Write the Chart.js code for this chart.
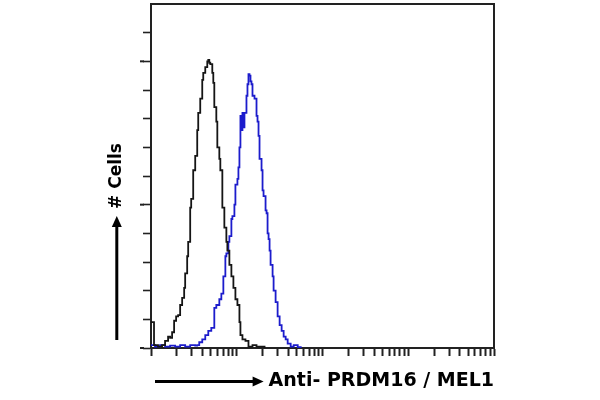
<!DOCTYPE html>
<html>
<head>
<meta charset="utf-8">
<script src="https://cdn.jsdelivr.net/npm/chart.js@4/dist/chart.umd.min.js"></script>
<style>
  html, body { margin: 0; padding: 0; background: #ffffff; }
  #c { display: block; }
</style>
</head>
<body>
<canvas id="c" width="600" height="400"></canvas>
<script>
// ---- Data (1024-channel log display, 256 channels per decade) ----
const channelsBlack = [0, 3, 9, 21, 33, 42, 51, 57, 63, 69, 75, 81, 87, 93, 99, 102, 108, 111, 117, 120, 126, 132, 138, 141, 147, 153, 156, 162, 168, 171, 174, 177, 183, 186, 189, 195, 198, 204, 207, 213, 219, 225, 228, 234, 240, 246, 252, 258, 264, 267, 273, 282, 291, 303, 315, 327, 339];
const countsBlack   = [0.9, 0.9, 0.1, 0.05, 0.1, 0.25, 0.4, 0.35, 0.55, 0.95, 1.1, 1.15, 1.5, 1.75, 2.1, 2.6, 3.2, 3.7, 4.9, 5.2, 6.2, 6.7, 7.6, 8.2, 8.7, 9.35, 9.6, 9.8, 10.0, 10.05, 9.95, 9.9, 9.6, 9.25, 8.4, 7.9, 7.0, 6.6, 6.2, 4.9, 4.2, 3.7, 3.4, 2.9, 2.5, 2.1, 1.7, 1.5, 0.9, 0.45, 0.3, 0.25, 0.05, 0.1, 0.05, 0.05, 0];

const channelsBlue = [0, 3, 12, 27, 42, 57, 72, 87, 102, 117, 132, 138, 144, 153, 162, 171, 180, 189, 195, 204, 210, 216, 222, 225, 231, 234, 240, 243, 249, 252, 258, 261, 264, 267, 270, 273, 276, 279, 285, 288, 291, 294, 297, 300, 303, 309, 315, 318, 321, 324, 330, 333, 336, 342, 345, 348, 351, 354, 357, 363, 366, 372, 378, 384, 390, 396, 402, 408, 417, 426, 438, 447];
const countsBlue   = [0.1, 0.1, 0.05, 0.1, 0.05, 0.08, 0.05, 0.1, 0.05, 0.1, 0.08, 0.1, 0.2, 0.3, 0.45, 0.6, 0.7, 1.4, 1.5, 1.7, 1.9, 2.5, 3.2, 3.3, 3.7, 3.9, 4.5, 4.6, 5.0, 5.7, 5.9, 6.3, 7.0, 8.1, 7.6, 8.2, 7.7, 8.2, 8.8, 9.2, 9.55, 9.5, 9.3, 9.2, 8.8, 8.7, 8.1, 7.9, 7.4, 6.6, 6.2, 5.5, 5.3, 4.8, 4.7, 4.0, 3.8, 3.4, 2.9, 2.5, 2.0, 1.6, 1.1, 0.8, 0.6, 0.4, 0.3, 0.15, 0.05, 0.1, 0.03, 0];

// Axis definition
const decades = [1, 10, 100, 1000];
const mantissas = [1, 2, 3, 4, 5, 6, 7, 8, 9];
const channelsPerDecade = 256;
const channelMax = 1024;
const countMax = 12;
const majorCountTicks = [0, 5, 10];

const xTitle = 'Anti- PRDM16 / MEL1';
const yTitle = '# Cells';

// ---- Chart ----
Chart.defaults.font.family = "'DejaVu Sans', 'Liberation Sans', sans-serif";

const toPoints = (xs, ys) => xs.map((x, i) => ({ x: x, y: ys[i] }));

const xTitleFont = { family: "'DejaVu Sans', sans-serif", size: 19, weight: 'bold', lineHeight: 1.2 };
const yTitleFont = { family: "'DejaVu Sans', sans-serif", size: 17, weight: 'bold', lineHeight: 1.2 };

const arrowsPlugin = {
  id: 'arrows',
  afterDraw(chart) {
    const ctx = chart.ctx;
    const area = chart.chartArea;
    const xs = chart.scales.x;
    const ys = chart.scales.y;
    ctx.save();

    // longer major tick marks on the count axis
    ctx.strokeStyle = '#222';
    ctx.lineWidth = 2;
    majorCountTicks.forEach(v => {
      const py = ys.getPixelForValue(v);
      ctx.beginPath();
      ctx.moveTo(area.left - 11, py);
      ctx.lineTo(area.left - 7, py);
      ctx.stroke();
    });

    ctx.fillStyle = '#000';
    ctx.strokeStyle = '#000';
    ctx.lineWidth = 3;

    // x-axis arrow (to the left of the title, on the title's centre line)
    ctx.font = 'bold 19px "DejaVu Sans"';
    const tw = ctx.measureText(xTitle).width;
    const ay = xs.bottom - 19 * 1.2 / 2;
    const xStart = area.left + 4;
    const xEnd = area.right - tw - 5;
    ctx.beginPath();
    ctx.moveTo(xStart, ay);
    ctx.lineTo(xEnd - 9, ay);
    ctx.stroke();
    ctx.beginPath();
    ctx.moveTo(xEnd, ay);
    ctx.lineTo(xEnd - 11, ay - 5);
    ctx.lineTo(xEnd - 11, ay + 5);
    ctx.closePath();
    ctx.fill();

    // y-axis arrow (below the title)
    ctx.font = 'bold 17px "DejaVu Sans"';
    const th = ctx.measureText(yTitle).width;
    const ax = ys.left + 17 * 1.2 / 2;
    const yMid = (area.top + area.bottom) / 2;
    const yTip = yMid + th / 2 + 7;
    const yStart = area.bottom - 8;
    ctx.beginPath();
    ctx.moveTo(ax, yStart);
    ctx.lineTo(ax, yTip + 9);
    ctx.stroke();
    ctx.beginPath();
    ctx.moveTo(ax, yTip);
    ctx.lineTo(ax - 5, yTip + 11);
    ctx.lineTo(ax + 5, yTip + 11);
    ctx.closePath();
    ctx.fill();

    ctx.restore();
  }
};

new Chart(document.getElementById('c'), {
  type: 'line',
  data: {
    datasets: [
      {
        label: 'Control',
        data: toPoints(channelsBlack, countsBlack),
        borderColor: '#151515',
        borderWidth: 1.8,
        stepped: true,
        pointRadius: 0,
        fill: false
      },
      {
        label: 'Anti-PRDM16',
        data: toPoints(channelsBlue, countsBlue),
        borderColor: '#1c1ccc',
        borderWidth: 1.8,
        stepped: true,
        pointRadius: 0,
        fill: false
      }
    ]
  },
  options: {
    responsive: false,
    animation: false,
    layout: { padding: { left: 106.6, right: 106, top: 4, bottom: 7.2 } },
    plugins: { legend: { display: false }, tooltip: { enabled: false } },
    scales: {
      x: {
        type: 'linear',
        position: 'bottom',
        min: 0,
        max: channelMax,
        afterBuildTicks(scale) {
          const t = [];
          decades.forEach(d => mantissas.forEach(m => t.push({ value: channelsPerDecade * Math.log10(m * d) })));
          t.push({ value: channelMax });
          scale.ticks = t;
        },
        ticks: { display: false },
        grid: { drawOnChartArea: false, drawTicks: true, tickLength: 8, tickColor: '#222', tickWidth: 2 },
        border: { display: true, color: '#222', width: 2 },
        title: { display: true, text: xTitle, align: 'end', color: '#000', font: xTitleFont, padding: { top: 14, bottom: 0 } }
      },
      y: {
        type: 'linear',
        position: 'left',
        min: 0,
        max: countMax,
        ticks: { display: false, stepSize: 1 },
        grid: {
          drawOnChartArea: false, drawTicks: true, tickLength: 8, tickWidth: 1.6,
          tickColor: (c) => (c.tick && c.tick.value === countMax ? 'rgba(0,0,0,0)' : '#222')
        },
        border: { display: true, color: '#222', width: 2 },
        title: { display: true, text: yTitle, align: 'center', color: '#000', font: yTitleFont, padding: { top: 0, bottom: 16 } }
      },
      xTop: {
        type: 'linear', position: 'top', min: 0, max: channelMax,
        ticks: { display: false }, grid: { display: false, drawTicks: false },
        border: { display: true, color: '#222', width: 2 }
      },
      yRight: {
        type: 'linear', position: 'right', min: 0, max: countMax,
        ticks: { display: false }, grid: { display: false, drawTicks: false },
        border: { display: true, color: '#222', width: 2 }
      }
    }
  },
  plugins: [arrowsPlugin]
});
</script>
</body>
</html>
